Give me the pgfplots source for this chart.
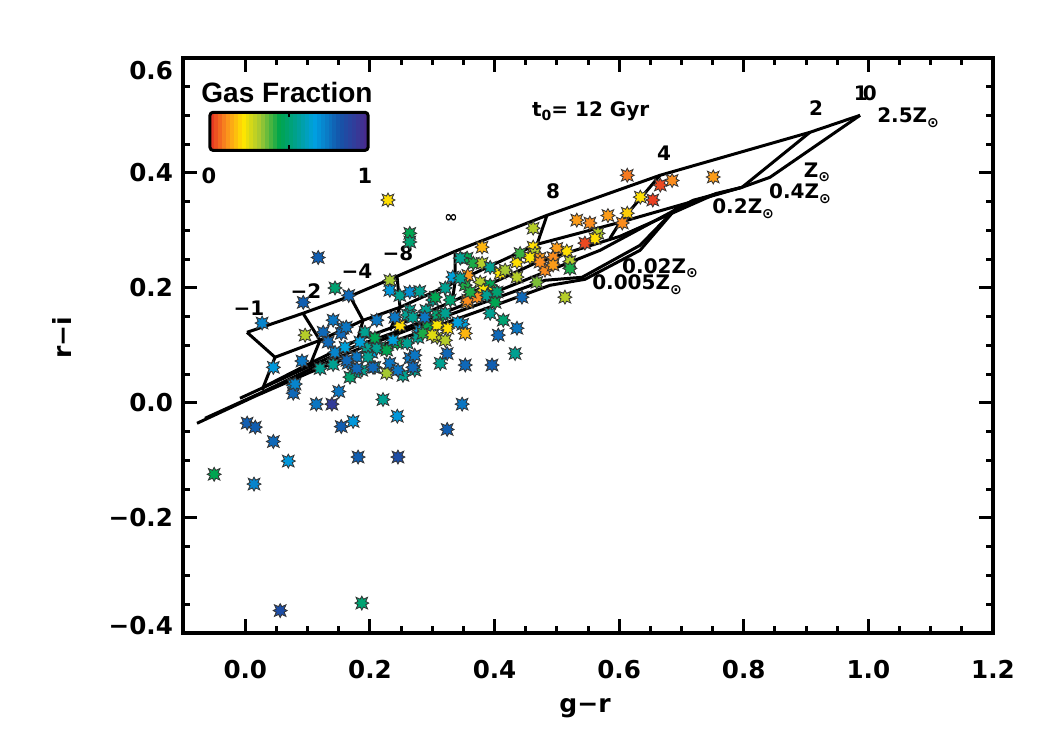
\documentclass[border=0pt]{standalone}
\usepackage{fontspec}
\setmainfont{Liberation Sans}
\newfontfamily\dejavu{DejaVu Sans}
\usepackage{pgfplots}
\pgfplotsset{compat=1.18}
\usepackage{pgfplotstable}

\newcommand\tickfont{\dejavu\bfseries\fontsize{12.3}{14}\selectfont}
\newcommand\annfont{\dejavu\bfseries\fontsize{10}{12}\selectfont}
\newcommand\labfont{\dejavu\bfseries\fontsize{12.5}{14}\selectfont}
\newcommand\cbfont{\dejavu\bfseries\fontsize{10.5}{12}\selectfont}
\newcommand\gasfont{\bfseries\fontsize{14}{16}\selectfont}
\newcommand\zsun{Z\raisebox{-0.45ex}{\fontsize{7}{7}\selectfont ⊙}}

\pgfdeclareplotmark{burst}{%
 \pgfpathmoveto{\pgfpointpolar{0}{0.85*\pgfplotmarksize}}%
 \pgfpathlineto{\pgfpointpolar{22.5}{0.52*\pgfplotmarksize}}%
 \pgfpathlineto{\pgfpointpolar{45}{\pgfplotmarksize}}%
 \pgfpathlineto{\pgfpointpolar{67.5}{0.52*\pgfplotmarksize}}%
 \pgfpathlineto{\pgfpointpolar{90}{0.85*\pgfplotmarksize}}%
 \pgfpathlineto{\pgfpointpolar{112.5}{0.52*\pgfplotmarksize}}%
 \pgfpathlineto{\pgfpointpolar{135}{\pgfplotmarksize}}%
 \pgfpathlineto{\pgfpointpolar{157.5}{0.52*\pgfplotmarksize}}%
 \pgfpathlineto{\pgfpointpolar{180}{0.85*\pgfplotmarksize}}%
 \pgfpathlineto{\pgfpointpolar{202.5}{0.52*\pgfplotmarksize}}%
 \pgfpathlineto{\pgfpointpolar{225}{\pgfplotmarksize}}%
 \pgfpathlineto{\pgfpointpolar{247.5}{0.52*\pgfplotmarksize}}%
 \pgfpathlineto{\pgfpointpolar{270}{0.85*\pgfplotmarksize}}%
 \pgfpathlineto{\pgfpointpolar{292.5}{0.52*\pgfplotmarksize}}%
 \pgfpathlineto{\pgfpointpolar{315}{\pgfplotmarksize}}%
 \pgfpathlineto{\pgfpointpolar{337.5}{0.52*\pgfplotmarksize}}%
 \pgfpathclose
 \pgfusepathqfillstroke}

\pgfplotstableread{
x y g
-0.050 -0.124 0.45
0.003 -0.035 0.80
0.016 -0.042 0.80
0.045 -0.067 0.78
0.069 -0.101 0.68
0.014 -0.141 0.72
0.056 -0.361 0.85
0.077 0.031 0.68
0.077 0.017 0.78
0.114 -0.002 0.75
0.139 -0.002 0.92
0.150 0.020 0.75
0.154 -0.041 0.80
0.173 -0.032 0.68
0.181 -0.094 0.80
0.187 -0.348 0.50
0.221 0.006 0.55
0.244 -0.023 0.68
0.245 -0.094 0.85
0.348 -0.002 0.75
0.324 -0.046 0.80
0.229 0.353 0.20
0.264 0.295 0.45
0.264 0.280 0.50
0.117 0.253 0.80
0.232 0.213 0.32
0.144 0.200 0.50
0.166 0.187 0.78
0.093 0.175 0.80
0.027 0.139 0.72
0.096 0.118 0.30
0.125 0.123 0.78
0.133 0.106 0.78
0.141 0.144 0.75
0.157 0.130 0.75
0.154 0.121 0.78
0.144 0.088 0.72
0.141 0.067 0.55
0.120 0.060 0.55
0.091 0.073 0.75
0.045 0.062 0.68
0.080 0.033 0.72
0.165 0.069 0.75
0.179 0.080 0.75
0.187 0.057 0.55
0.176 0.053 0.55
0.168 0.045 0.50
0.208 0.062 0.55
0.227 0.052 0.32
0.253 0.048 0.55
0.272 0.057 0.55
0.264 0.078 0.75
0.272 0.083 0.75
0.232 0.069 0.75
0.244 0.104 0.45
0.237 0.109 0.65
0.216 0.097 0.50
0.203 0.088 0.65
0.211 0.144 0.75
0.192 0.123 0.55
0.195 0.097 0.55
0.208 0.113 0.45
0.248 0.135 0.20
0.264 0.161 0.55
0.260 0.153 0.55
0.269 0.149 0.55
0.280 0.126 0.65
0.292 0.132 0.45
0.301 0.179 0.55
0.308 0.153 0.50
0.308 0.135 0.22
0.317 0.153 0.45
0.308 0.114 0.30
0.321 0.109 0.30
0.325 0.130 0.20
0.324 0.086 0.78
0.313 0.069 0.55
0.353 0.066 0.78
0.396 0.066 0.80
0.349 0.137 0.65
0.353 0.121 0.15
0.406 0.118 0.78
0.436 0.130 0.75
0.414 0.144 0.50
0.393 0.156 0.55
0.444 0.184 0.78
0.433 0.086 0.55
0.513 0.184 0.30
0.532 0.318 0.12
0.462 0.304 0.30
0.232 0.196 0.68
0.248 0.187 0.55
0.264 0.193 0.70
0.280 0.194 0.55
0.333 0.219 0.65
0.356 0.252 0.45
0.380 0.271 0.15
0.162 0.132 0.75
0.160 0.097 0.65
0.163 0.074 0.78
0.179 0.060 0.78
0.205 0.062 0.78
0.269 0.062 0.78
0.245 0.057 0.75
0.211 0.095 0.55
0.227 0.092 0.45
0.184 0.106 0.65
0.197 0.080 0.55
0.260 0.104 0.55
0.277 0.114 0.55
0.285 0.121 0.42
0.300 0.118 0.25
0.341 0.140 0.65
0.240 0.149 0.75
0.290 0.161 0.55
0.321 0.156 0.55
0.305 0.184 0.45
0.329 0.179 0.50
0.353 0.205 0.42
0.356 0.175 0.12
0.345 0.252 0.55
0.366 0.243 0.42
0.380 0.243 0.30
0.393 0.236 0.55
0.409 0.226 0.22
0.417 0.231 0.32
0.436 0.245 0.20
0.436 0.219 0.30
0.462 0.271 0.20
0.465 0.260 0.30
0.441 0.260 0.40
0.473 0.252 0.12
0.481 0.231 0.10
0.468 0.210 0.35
0.357 0.222 0.12
0.345 0.217 0.55
0.377 0.210 0.30
0.393 0.205 0.45
0.398 0.193 0.20
0.382 0.196 0.22
0.357 0.179 0.10
0.372 0.184 0.10
0.388 0.187 0.55
0.401 0.175 0.45
0.404 0.193 0.50
0.361 0.193 0.42
0.321 0.200 0.55
0.288 0.149 0.75
0.553 0.313 0.10
0.582 0.326 0.12
0.613 0.330 0.18
0.605 0.313 0.10
0.566 0.295 0.30
0.561 0.286 0.20
0.545 0.278 0.03
0.516 0.264 0.20
0.500 0.269 0.12
0.521 0.246 0.30
0.521 0.234 0.42
0.494 0.253 0.10
0.457 0.253 0.22
0.473 0.245 0.10
0.494 0.240 0.12
0.613 0.396 0.08
0.666 0.379 0.03
0.685 0.387 0.10
0.751 0.393 0.12
0.634 0.358 0.20
0.654 0.353 0.02
}\galaxies

% colour bar of the legend: gas fraction 0..1 along the bar
\pgfplotstableread{
x y m
-0.0567 0.47245 0
-0.0504 0.47245 0.025
-0.0440 0.47245 0.05
-0.0377 0.47245 0.075
-0.0313 0.47245 0.1
-0.0250 0.47245 0.125
-0.0186 0.47245 0.15
-0.0123 0.47245 0.175
-0.0060 0.47245 0.2
0.0004 0.47245 0.225
0.0067 0.47245 0.25
0.0131 0.47245 0.275
0.0194 0.47245 0.3
0.0258 0.47245 0.325
0.0321 0.47245 0.35
0.0384 0.47245 0.375
0.0448 0.47245 0.4
0.0511 0.47245 0.425
0.0575 0.47245 0.45
0.0638 0.47245 0.475
0.0702 0.47245 0.5
0.0765 0.47245 0.525
0.0828 0.47245 0.55
0.0892 0.47245 0.575
0.0955 0.47245 0.6
0.1019 0.47245 0.625
0.1082 0.47245 0.65
0.1145 0.47245 0.675
0.1209 0.47245 0.7
0.1272 0.47245 0.725
0.1336 0.47245 0.75
0.1399 0.47245 0.775
0.1463 0.47245 0.8
0.1526 0.47245 0.825
0.1589 0.47245 0.85
0.1653 0.47245 0.875
0.1716 0.47245 0.9
0.1780 0.47245 0.925
0.1843 0.47245 0.95
0.1907 0.47245 0.975
0.1970 0.47245 1.0
}\cbar

\begin{document}
\begin{tikzpicture}
\begin{axis}[
  scale only axis, width=405pt, height=287.5pt,
  xmin=-0.1, xmax=1.2, ymin=-0.4, ymax=0.6,
  xtick={0,0.2,0.4,0.6,0.8,1.0,1.2},
  xticklabels={0.0,0.2,0.4,0.6,0.8,1.0,1.2},
  ytick={-0.4,-0.2,0,0.2,0.4,0.6},
  yticklabels={\raisebox{3.5pt}[\height][\depth]{−0.4},−0.2,0.0,0.2,0.4,\raisebox{-6.5pt}[\height][\depth]{0.6}},
  minor x tick num=3, minor y tick num=3,
  tick align=inside,
  major tick length=7pt, minor tick length=3.5pt,
  tick style={black, line width=1.5pt},
  axis line style={line width=2pt},
  tick label style={font=\tickfont},
  xticklabel style={yshift=-10pt},
  yticklabel style={xshift=-1.5pt},
  xlabel={g−r}, ylabel={r−i},
  label style={font=\labfont},
  xlabel style={at={(axis description cs:0.4963,-0.1304)}, anchor=center},
  ylabel style={at={(axis description cs:-0.1494,0.513)}, anchor=center},
  clip=false,
  colormap={gas}{rgb255(0pt)=(230,45,35); rgb255(10pt)=(250,140,30); rgb255(21pt)=(255,230,0); rgb255(32pt)=(165,200,50); rgb255(44pt)=(0,165,75); rgb255(55pt)=(0,160,145); rgb255(66pt)=(0,160,225); rgb255(82pt)=(20,85,170); rgb255(100pt)=(75,40,140)},
  point meta min=0, point meta max=1,
]
\coordinate (ll) at (rel axis cs:0,0);

\addplot[scatter, only marks, mark=burst, mark size=4.1pt, scatter src=explicit,
  scatter/use mapped color={draw=black!80, fill=mapped color, line width=0.4pt}]
  table[x=x, y=y, meta=g] {\galaxies};

% model grid: metallicity tracks
\addplot[black, line width=1.5pt, line join=round] coordinates {(0.0027,0.1229) (0.0926,0.156) (0.168,0.1856) (0.2435,0.2203) (0.3366,0.2638) (0.4842,0.3264) (0.6656,0.396) (0.9063,0.4708) (0.9866,0.5003)};
\addplot[black, line width=1.5pt, line join=round] coordinates {(0.0477,0.0795) (0.1199,0.109) (0.1889,0.1438) (0.2483,0.1664) (0.3366,0.2099) (0.4682,0.276) (0.6014,0.3142) (0.7972,0.3751) (0.8421,0.3925) (0.9866,0.5003)};
\addplot[black, line width=1.5pt, line join=round] coordinates {(0.0284,0.0273) (0.1038,0.069) (0.1793,0.109) (0.2322,0.1299) (0.3366,0.1786) (0.4682,0.2447) (0.6014,0.2899) (0.7571,0.3647) (0.7972,0.3751)};
\addplot[black, line width=1.5pt, line join=round] coordinates {(-0.0085,0.0082) (0.0958,0.0603) (0.1761,0.0986) (0.2355,0.1212) (0.3366,0.1647) (0.4682,0.2221) (0.5693,0.2655) (0.7186,0.3525) (0.7972,0.3751)};
\addplot[black, line width=1.5pt, line join=round] coordinates {(-0.0647,-0.0266) (0.0236,0.0169) (0.107,0.0603) (0.1841,0.0951) (0.2804,0.1351) (0.3927,0.1786) (0.481,0.2134) (0.5404,0.2186) (0.6335,0.2742) (0.6929,0.3403)};
\addplot[black, line width=1.5pt, line join=round] coordinates {(-0.0775,-0.0353) (0.0156,0.0117) (0.1038,0.0534) (0.1873,0.0882) (0.2884,0.1264) (0.4008,0.1699) (0.4891,0.2047) (0.5452,0.2151) (0.6335,0.2655) (0.6929,0.3403) (0.7571,0.3647)};
% model grid: constant-tau lines
\addplot[black, line width=1.5pt, line join=round] coordinates {(0.0027,0.1229) (0.0477,0.0795) (0.0268,0.0221)};
\addplot[black, line width=1.5pt, line join=round] coordinates {(0.0926,0.156) (0.1199,0.109) (0.1038,0.0656)};
\addplot[black, line width=1.5pt, line join=round] coordinates {(0.168,0.1856) (0.1889,0.1438) (0.1793,0.1056)};
\addplot[black, line width=1.5pt, line join=round] coordinates {(0.2435,0.2203) (0.2483,0.1664) (0.2322,0.1264)};
\addplot[black, line width=1.5pt, line join=round] coordinates {(0.3366,0.2638) (0.3366,0.2099) (0.3318,0.1751)};
\addplot[black, line width=1.5pt, line join=round] coordinates {(0.4842,0.3264) (0.4682,0.276) (0.4602,0.2447)};
\addplot[black, line width=1.5pt, line join=round] coordinates {(0.6656,0.396) (0.6014,0.3142) (0.5853,0.2864)};
\addplot[black, line width=1.5pt, line join=round] coordinates {(0.9063,0.4708) (0.7972,0.3751)};

% legend colour bar
\addplot[mesh, shader=flat, line width=19pt, line cap=butt, point meta=explicit, forget plot]
  table[x=x, y=y, meta=m] {\cbar};
\draw[line width=1.5pt, rounded corners=1.5pt] (axis cs:-0.0567,0.4394) rectangle (axis cs:0.197,0.5055);
\draw[line width=1pt] (axis cs:0.0702,0.5055) -- (axis cs:0.0702,0.4968);
\draw[line width=1pt] (axis cs:0.0702,0.4394) -- (axis cs:0.0702,0.4481);
\node[font=\cbfont] at (axis cs:-0.0583,0.3942) {0};
\node[font=\cbfont] at (axis cs:0.1921,0.3942) {1};
\node[font=\gasfont] at (axis cs:0.0669,0.5403) {Gas Fraction};

\node[font=\annfont] at (axis cs:0.0059,0.1647) {−1};
\node[font=\annfont] at (axis cs:0.0974,0.1943) {−2};
\node[font=\annfont] at (axis cs:0.1793,0.229) {−4};
\node[font=\annfont] at (axis cs:0.2451,0.2603) {−8};
\node[font=\dejavu\bfseries\fontsize{8}{8}\selectfont] at (axis cs:0.3302,0.3212) {∞};
\node[font=\annfont] at (axis cs:0.4939,0.3682) {8};
\node[font=\annfont] at (axis cs:0.6721,0.4342) {4};
\node[font=\annfont] at (axis cs:0.916,0.5125) {2};
\node[font=\annfont] at (axis cs:0.995,0.5395) {1\kern-2.5pt0};
\node[font=\annfont] at (axis cs:1.0638,0.4968) {2.5\zsun};
\node[font=\annfont] at (axis cs:0.9176,0.4012) {\zsun};
\node[font=\annfont] at (axis cs:0.8903,0.3647) {0.4\zsun};
\node[font=\annfont] at (axis cs:0.799,0.3386) {0.2\zsun};
\node[font=\annfont] at (axis cs:0.6656,0.2345) {0.02\zsun};
\node[font=\annfont] at (axis cs:0.6287,0.2050) {0.005\zsun};
\node[font=\annfont, anchor=west] at (axis cs:0.4489,0.5073) {t\raisebox{-0.4ex}{\fontsize{7}{7}\selectfont 0}= 12 Gyr};
\end{axis}
\pgfresetboundingbox
\path (ll) ++(-91.5pt,-58.5pt) rectangle ++(525pt,375pt);
\end{tikzpicture}
\end{document}
